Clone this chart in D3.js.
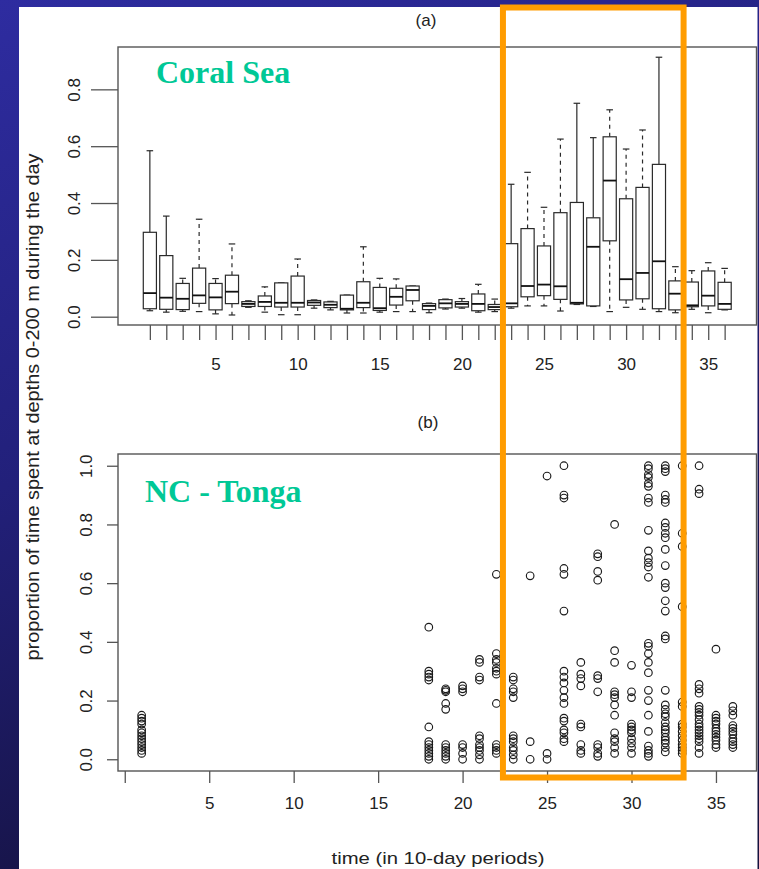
<!DOCTYPE html>
<html>
<head>
<meta charset="utf-8">
<script src="https://cdn.jsdelivr.net/npm/d3@7"></script>
<style>
  html, body { margin: 0; padding: 0; background: #1d1b66; }
  svg { display: block; }
  .tick text { font-family: "Liberation Sans", Arial, sans-serif; fill: #222; }
</style>
</head>
<body>
<svg id="chart" width="759" height="869"></svg>
<script>
// ---- (a) Coral Sea: box-plot summaries per 10-day period ----
const periods = [1, 2, 3, 4, 5, 6, 7, 8, 9, 10, 11, 12, 13, 14, 15, 16, 17, 18,
                 19, 20, 21, 22, 23, 24, 25, 26, 27, 28, 29, 30, 31, 32, 33, 34, 35, 36];
const whiskerLow  = [0.021, 0.016, 0.019, 0.018, 0.010, 0.006, 0.033, 0.016, 0.007, 0.007, 0.030, 0.024,
                     0.013, 0.013, 0.016, 0.018, 0.018, 0.014, 0.027, 0.030, 0.016, 0.018, 0.030, 0.038,
                     0.038, 0.020, 0.043, 0.036, 0.018, 0.033, 0.026, 0.018, 0.014, 0.026, 0.014, 0.024];
const lowerQuartile = [0.028, 0.026, 0.025, 0.047, 0.024, 0.046, 0.036, 0.036, 0.034, 0.034, 0.040, 0.032,
                     0.024, 0.032, 0.022, 0.041, 0.056, 0.025, 0.031, 0.034, 0.021, 0.025, 0.035, 0.070,
                     0.074, 0.061, 0.045, 0.038, 0.267, 0.059, 0.063, 0.028, 0.024, 0.035, 0.038, 0.026];
const medians     = [0.083, 0.067, 0.063, 0.075, 0.068, 0.088, 0.045, 0.052, 0.049, 0.049, 0.050, 0.042,
                     0.028, 0.049, 0.030, 0.070, 0.094, 0.038, 0.047, 0.045, 0.045, 0.034, 0.047, 0.108,
                     0.113, 0.107, 0.049, 0.246, 0.479, 0.132, 0.154, 0.195, 0.081, 0.040, 0.074, 0.045];
const upperQuartile = [0.297, 0.215, 0.117, 0.171, 0.117, 0.146, 0.053, 0.073, 0.119, 0.143, 0.057, 0.052,
                     0.076, 0.123, 0.103, 0.100, 0.108, 0.046, 0.060, 0.053, 0.080, 0.043, 0.257, 0.310,
                     0.249, 0.366, 0.402, 0.348, 0.633, 0.415, 0.455, 0.536, 0.126, 0.122, 0.161, 0.121];
const whiskerHigh = [0.584, 0.354, 0.135, 0.343, 0.134, 0.256, 0.056, 0.105, 0.119, 0.203, 0.059, 0.054,
                     0.076, 0.246, 0.135, 0.133, 0.108, 0.048, 0.062, 0.064, 0.114, 0.062, 0.466, 0.508,
                     0.385, 0.625, 0.751, 0.630, 0.728, 0.590, 0.657, 0.913, 0.176, 0.162, 0.190, 0.170];
const boxTicks = [0, 0.2, 0.4, 0.6, 0.8];

// ---- (b) NC - Tonga: individual observations per 10-day period ----
const tongaPeriods = [1, 18, 19, 20, 21, 22, 23, 24, 25, 26, 27, 28, 29, 30, 31, 32, 33, 34, 35, 36];
const tongaValues = [
  [0.15, 0.14, 0.13, 0.12, 0.10, 0.09, 0.08, 0.07, 0.06, 0.05, 0.04, 0.03, 0.02],
  [0.45, 0.30, 0.29, 0.28, 0.27, 0.11, 0.06, 0.05, 0.04, 0.03, 0.02, 0.01, 0.0],
  [0.24, 0.235, 0.23, 0.19, 0.17, 0.05, 0.04, 0.03, 0.02, 0.01, 0.0],
  [0.25, 0.24, 0.23, 0.05, 0.04, 0.02, 0.0],
  [0.34, 0.33, 0.28, 0.27, 0.08, 0.07, 0.05, 0.04, 0.03, 0.015, 0.0],
  [0.63, 0.36, 0.34, 0.33, 0.31, 0.30, 0.29, 0.19, 0.05, 0.04, 0.03, 0.02],
  [0.28, 0.27, 0.24, 0.23, 0.21, 0.08, 0.07, 0.06, 0.04, 0.03, 0.015, 0.0],
  [0.625, 0.06, 0.0],
  [0.965, 0.02, 0.0],
  [1.0, 0.90, 0.89, 0.65, 0.63, 0.505, 0.30, 0.28, 0.26, 0.235, 0.21, 0.19, 0.14, 0.13, 0.10, 0.09, 0.07, 0.06],
  [0.33, 0.29, 0.275, 0.25, 0.12, 0.11, 0.05, 0.03, 0.02],
  [0.70, 0.69, 0.64, 0.61, 0.285, 0.275, 0.23, 0.05, 0.04, 0.02, 0.01],
  [0.80, 0.37, 0.33, 0.23, 0.22, 0.21, 0.185, 0.15, 0.09, 0.07, 0.06, 0.04, 0.02],
  [0.32, 0.23, 0.21, 0.12, 0.11, 0.10, 0.09, 0.07, 0.055, 0.04, 0.02],
  [1.0, 0.99, 0.97, 0.96, 0.94, 0.93, 0.89, 0.875, 0.78, 0.71, 0.685, 0.67, 0.655, 0.62, 0.395, 0.385,
   0.36, 0.33, 0.295, 0.235, 0.20, 0.15, 0.095, 0.045, 0.03, 0.02, 0.01],
  [1.0, 0.99, 0.98, 0.90, 0.885, 0.875, 0.805, 0.79, 0.77, 0.755, 0.715, 0.66, 0.60, 0.585, 0.54, 0.505,
   0.42, 0.41, 0.235, 0.185, 0.17, 0.155, 0.145, 0.125, 0.11, 0.10, 0.09, 0.075, 0.065, 0.055, 0.04, 0.025],
  [1.0, 0.77, 0.725, 0.52, 0.195, 0.18, 0.12, 0.11, 0.095, 0.08, 0.065, 0.05, 0.04, 0.03, 0.02],
  [1.0, 0.92, 0.905, 0.255, 0.24, 0.225, 0.18, 0.17, 0.16, 0.15, 0.135, 0.12, 0.11, 0.10, 0.09, 0.08,
   0.07, 0.06, 0.04, 0.02],
  [0.375, 0.15, 0.14, 0.13, 0.12, 0.105, 0.095, 0.085, 0.075, 0.065, 0.05, 0.04],
  [0.18, 0.165, 0.15, 0.115, 0.105, 0.095, 0.085, 0.07, 0.06, 0.05, 0.04]
];
const dotTicks = [0, 0.2, 0.4, 0.6, 0.8, 1.0];
const timeTicks = [0, 5, 10, 15, 20, 25, 30, 35];
const timeTickLabels = ["", "5", "10", "15", "20", "25", "30", "35"];
const highlightPeriods = [23, 33];

// ---- layout ----
const W = 759, H = 869;
const frameA = { left: 118, right: 756.5, top: 47, bottom: 325 };
const frameB = { left: 118, right: 756.5, top: 454, bottom: 771 };
const axisColor = "#555";
const inkColor = "#2a2a2a";
const accent = "#00c896";
const sansFont = "Liberation Sans, Arial, sans-serif";

const svg = d3.select("#chart");

// slide background with white plotting card
const defs = svg.append("defs");
const bg = defs.append("linearGradient").attr("id", "slideBg")
  .attr("x1", 0).attr("y1", 0).attr("x2", 0.35).attr("y2", 1);
bg.append("stop").attr("offset", 0).attr("stop-color", "#2e2ca0");
bg.append("stop").attr("offset", 0.5).attr("stop-color", "#22207a");
bg.append("stop").attr("offset", 1).attr("stop-color", "#15123f");
svg.append("rect").attr("width", W).attr("height", H).attr("fill", "url(#slideBg)");
svg.append("rect").attr("x", 19).attr("y", 7).attr("width", 738.5).attr("height", H - 7).attr("fill", "#fff");

function styleAxis(g) {
  g.select(".domain").remove();
  g.selectAll(".tick line").attr("stroke", axisColor).attr("stroke-width", 1.3);
  g.selectAll(".tick text").attr("font-size", 17);
}
function rotateYLabels(g, offset) {
  g.selectAll(".tick text")
    .attr("transform", "rotate(-90)")
    .attr("x", 0).attr("y", -offset).attr("dy", 0)
    .attr("text-anchor", "middle");
}

// ---------- panel (a) ----------
const xA = d3.scaleLinear().domain([-0.94, 37.94]).range([frameA.left, frameA.right]);
const yA = d3.scaleLinear().domain([-0.0292, 0.949]).range([frameA.bottom, frameA.top]);
const boxW = 0.8 * (xA(1) - xA(0));
const capW = 0.5 * boxW;
// whiskers that render as continuous strokes at this resolution
const solidWhiskers = new Set([1, 2, 23, 27, 28, 32]);

const boxes = periods.map((p, i) => ({
  p, lo: whiskerLow[i], q1: lowerQuartile[i], med: medians[i], q3: upperQuartile[i], hi: whiskerHigh[i]
}));

const gBox = svg.append("g").attr("fill", "none").attr("stroke", inkColor);
const bx = gBox.selectAll("g.box").data(boxes).join("g").attr("class", "box");
// whiskers
bx.append("line")
  .attr("x1", d => xA(d.p)).attr("x2", d => xA(d.p))
  .attr("y1", d => yA(d.q3)).attr("y2", d => yA(d.hi))
  .attr("stroke-width", 1.2)
  .attr("stroke-dasharray", d => solidWhiskers.has(d.p) ? null : "4,4");
bx.append("line")
  .attr("x1", d => xA(d.p)).attr("x2", d => xA(d.p))
  .attr("y1", d => yA(d.q1)).attr("y2", d => yA(d.lo))
  .attr("stroke-width", 1.2)
  .attr("stroke-dasharray", d => solidWhiskers.has(d.p) ? null : "4,4");
// caps
bx.append("line")
  .attr("x1", d => xA(d.p) - capW / 2).attr("x2", d => xA(d.p) + capW / 2)
  .attr("y1", d => yA(d.hi)).attr("y2", d => yA(d.hi))
  .attr("stroke-width", 1.2);
bx.append("line")
  .attr("x1", d => xA(d.p) - capW / 2).attr("x2", d => xA(d.p) + capW / 2)
  .attr("y1", d => yA(d.lo)).attr("y2", d => yA(d.lo))
  .attr("stroke-width", 1.2);
// boxes
bx.append("rect")
  .attr("x", d => xA(d.p) - boxW / 2).attr("width", boxW)
  .attr("y", d => yA(d.q3)).attr("height", d => Math.max(0.5, yA(d.q1) - yA(d.q3)))
  .attr("fill", "#fff").attr("stroke-width", 1.2);
// medians
bx.append("line")
  .attr("x1", d => xA(d.p) - boxW / 2).attr("x2", d => xA(d.p) + boxW / 2)
  .attr("y1", d => yA(d.med)).attr("y2", d => yA(d.med))
  .attr("stroke", "#111").attr("stroke-width", 1.8);

svg.append("rect")
  .attr("x", frameA.left).attr("y", frameA.top)
  .attr("width", frameA.right - frameA.left).attr("height", frameA.bottom - frameA.top)
  .attr("fill", "none").attr("stroke", axisColor).attr("stroke-width", 1.4);

svg.append("g").attr("transform", `translate(0,${frameA.bottom})`)
  .call(d3.axisBottom(xA).tickValues(periods).tickSize(15).tickPadding(18)
    .tickFormat(d => timeTicks.includes(d) ? String(d) : ""))
  .call(styleAxis);

svg.append("g").attr("transform", `translate(${frameA.left},0)`)
  .call(d3.axisLeft(yA).tickValues(boxTicks).tickSize(27).tickFormat(d3.format(".1f")))
  .call(styleAxis)
  .call(g => rotateYLabels(g, 38));

svg.append("text").attr("x", 426).attr("y", 26)
  .attr("text-anchor", "middle").attr("font-family", sansFont)
  .attr("font-size", 17).attr("fill", "#222").text("(a)");

svg.append("text").attr("x", frameA.left + 38).attr("y", frameA.top + 36)
  .attr("font-family", "Liberation Serif, Times New Roman, serif").attr("font-weight", "bold")
  .attr("font-size", 32).attr("fill", accent).text("Coral Sea");

// ---------- panel (b) ----------
const xB = d3.scaleLinear().domain([-0.4, 37.4]).range([frameB.left, frameB.right]);
const yB = d3.scaleLinear().domain([-0.04, 1.04]).range([frameB.bottom, frameB.top]);

const points = tongaPeriods.flatMap((p, i) => tongaValues[i].map(v => ({ p, v })));
svg.append("g").selectAll("circle").data(points).join("circle")
  .attr("cx", d => xB(d.p)).attr("cy", d => yB(d.v)).attr("r", 3.8)
  .attr("fill", "none").attr("stroke", "#1a1a1a").attr("stroke-width", 1.15);

svg.append("rect")
  .attr("x", frameB.left).attr("y", frameB.top)
  .attr("width", frameB.right - frameB.left).attr("height", frameB.bottom - frameB.top)
  .attr("fill", "none").attr("stroke", axisColor).attr("stroke-width", 1.4);

svg.append("g").attr("transform", `translate(0,${frameB.bottom})`)
  .call(d3.axisBottom(xB).tickValues(timeTicks).tickSize(12).tickPadding(14)
    .tickFormat((d, i) => timeTickLabels[i]))
  .call(styleAxis);

svg.append("g").attr("transform", `translate(${frameB.left},0)`)
  .call(d3.axisLeft(yB).tickValues(dotTicks).tickSize(11).tickFormat(d3.format(".1f")))
  .call(styleAxis)
  .call(g => rotateYLabels(g, 26));

svg.append("text").attr("x", 428).attr("y", 428)
  .attr("text-anchor", "middle").attr("font-family", sansFont)
  .attr("font-size", 17).attr("fill", "#222").text("(b)");

svg.append("text").attr("x", frameB.left + 27).attr("y", frameB.top + 48)
  .attr("font-family", "Liberation Serif, Times New Roman, serif").attr("font-weight", "bold")
  .attr("font-size", 32).attr("fill", accent).text("NC - Tonga");

// ---------- shared axis titles ----------
svg.append("text")
  .attr("transform", "translate(39,407) rotate(-90)")
  .attr("text-anchor", "middle").attr("font-family", sansFont)
  .attr("font-size", 18).attr("fill", "#222")
  .attr("textLength", 507).attr("lengthAdjust", "spacingAndGlyphs")
  .text("proportion of time spent at depths 0-200 m during the day");

svg.append("text").attr("x", 438).attr("y", 864)
  .attr("text-anchor", "middle").attr("font-family", sansFont)
  .attr("font-size", 17).attr("fill", "#222")
  .attr("textLength", 213).attr("lengthAdjust", "spacingAndGlyphs")
  .text("time (in 10-day periods)");

// ---------- highlighted period window ----------
svg.append("rect")
  .attr("x", xA(highlightPeriods[0] - 0.5)).attr("y", 7.5)
  .attr("width", xA(highlightPeriods[1] + 0.5) - xA(highlightPeriods[0] - 0.5))
  .attr("height", 770)
  .attr("fill", "none").attr("stroke", "#ff9c00").attr("stroke-width", 6);
</script>
</body>
</html>
